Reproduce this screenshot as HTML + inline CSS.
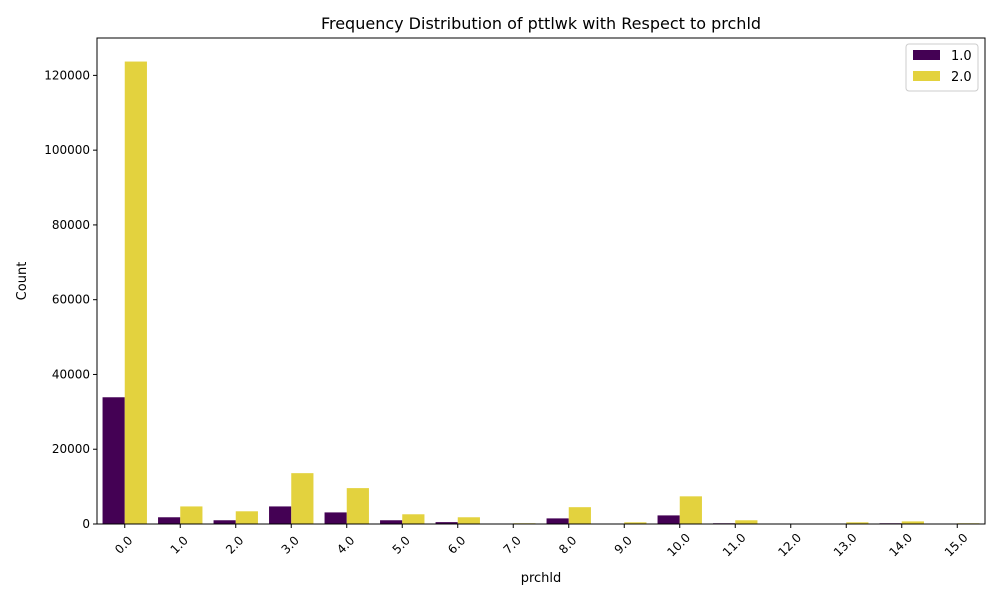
<!DOCTYPE html>
<html><head><meta charset="utf-8"><style>
body{margin:0;background:#fff;font-family:"Liberation Sans","DejaVu Sans",sans-serif;}
svg text{font-family:"DejaVu Sans","Liberation Sans",sans-serif;}
</style></head><body>
<svg id="chart" width="1000" height="600" xmlns="http://www.w3.org/2000/svg"></svg>
<script>
const categories=["0.0","1.0","2.0","3.0","4.0","5.0","6.0","7.0","8.0","9.0","10.0","11.0","12.0","13.0","14.0","15.0"];
const series1=[33900,1800,1000,4700,3100,1000,500,50,1500,20,2300,200,0,20,200,20];
const series2=[123700,4700,3400,13600,9600,2600,1800,200,4500,450,7400,1000,50,450,700,200];
const yTicks=[0,20000,40000,60000,80000,100000,120000];
const seriesNames=["1.0","2.0"];
const colors=["#440154","#e3d23e"];
const L=97,R=985,T=38,B=524;
const yMax=130000;
const svg=document.getElementById('chart');
const NS="http://www.w3.org/2000/svg";
function y(v){return B-(v/yMax)*(B-T);}
const bw=(R-L)/categories.length;
function x(i){return L+bw*(i+0.5);}
function mk(tag,attrs,parent){const e=document.createElementNS(NS,tag);for(const k in attrs)e.setAttribute(k,attrs[k]);(parent||svg).appendChild(e);return e;}
function txt(s,attrs){const e=mk('text',attrs);e.textContent=s;return e;}
const t=txt("Frequency Distribution of pttlwk with Respect to prchld",{x:(L+R)/2,y:29,'text-anchor':'middle','font-size':16,fill:'#000'});


[series1,series2].forEach((s,si)=>{
  s.forEach((v,i)=>{
    const w=bw*0.4;
    const r=mk('rect',{x:x(i)-bw*0.4+si*w,y:y(v),width:w,height:B-y(v),fill:colors[si]});
    
    
  });
});
yTicks.forEach(v=>{
  mk('line',{x1:L-4,x2:L,y1:y(v),y2:y(v),stroke:'#000'});
  const e=txt(String(v),{x:L-7,y:y(v)+4,'text-anchor':'end','font-size':12});
  
  
});
categories.forEach((c,i)=>{
  mk('line',{x1:x(i),x2:x(i),y1:B,y2:B+4,stroke:'#000'});
  const cx=x(i)-1, cy=B+25;
  const e=txt(c,{x:cx,y:cy,'text-anchor':'middle','font-size':12,transform:`rotate(-45 ${cx} ${cy-4})`});
  
  
});
const fr=mk('rect',{x:L,y:T,width:R-L,height:B-T,fill:'none',stroke:'#000','stroke-width':1});


const xt=txt("prchld",{x:(L+R)/2,y:582,'text-anchor':'middle','font-size':13});


const yt=txt("Count",{x:26,y:(T+B)/2,'text-anchor':'middle','font-size':13,transform:`rotate(-90 26 ${(T+B)/2})`});


const lg=mk('g',{});


mk('rect',{x:906,y:44,width:72,height:47,rx:3,fill:'#fff',stroke:'#ccc'},lg);
seriesNames.forEach((n,i)=>{
  mk('rect',{x:913,y:50+i*21,width:27,height:10,fill:colors[i]},lg);
  const e=mk('text',{x:951,y:60+i*21,'font-size':13},lg);
  e.textContent=n;
  
  
});
</script>
</body></html>
